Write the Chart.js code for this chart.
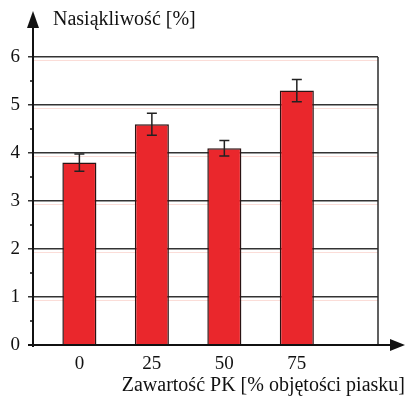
<!DOCTYPE html>
<html lang="pl">
  <head>
    <meta charset="UTF-8" />
    <title>Nasiąkliwość</title>
    <script src="https://cdn.jsdelivr.net/npm/chart.js"></script>
    <style>
      html, body {
        margin: 0;
        padding: 0;
        background: #ffffff;
      }
      .wrap {
        width: 406px;
        height: 402px;
      }
    </style>
  </head>
  <body>
    <div class="wrap">
      <canvas id="chart" width="406" height="402"></canvas>
    </div>
    <script>
      // data
      const pkContent = [0, 25, 50, 75];
      const absorption = [3.8, 4.6, 4.1, 5.3];
      const errors = [0.18, 0.23, 0.16, 0.23];
      const yTicks = [0, 1, 2, 3, 4, 5, 6];

      const yTitle = "Nasiąkliwość [%]";
      const xTitle = "Zawartość PK [% objętości piasku]";
      const serif = "'Liberation Serif', 'DejaVu Serif', serif";

      const decorPlugin = {
        id: "decor",
        beforeDatasetsDraw(chart) {
          const ctx = chart.ctx;
          const area = chart.chartArea;
          const y = chart.scales.y;
          ctx.save();
          // faint red shadow of the grid lines
          ctx.strokeStyle = "rgba(240,120,100,0.25)";
          ctx.lineWidth = 1;
          yTicks.forEach((v) => {
            if (v === 0) return;
            const py = Math.round(y.getPixelForValue(v)) + 3.5;
            ctx.beginPath();
            ctx.moveTo(area.left, py);
            ctx.lineTo(area.right, py);
            ctx.stroke();
          });
          // right frame line
          ctx.strokeStyle = "#2b2b2b";
          ctx.lineWidth = 1.5;
          ctx.beginPath();
          ctx.moveTo(area.right, area.top);
          ctx.lineTo(area.right, area.bottom);
          ctx.stroke();
          ctx.restore();
        },
        afterDatasetsDraw(chart) {
          const ctx = chart.ctx;
          const x = chart.scales.x;
          const y = chart.scales.y;
          ctx.save();
          ctx.strokeStyle = "#222";
          ctx.lineWidth = 1.5;
          pkContent.forEach((v, i) => {
            const px = x.getPixelForValue(v);
            const top = y.getPixelForValue(absorption[i] + errors[i]);
            const bot = y.getPixelForValue(absorption[i] - errors[i]);
            ctx.beginPath();
            ctx.moveTo(px, top);
            ctx.lineTo(px, bot);
            ctx.moveTo(px - 5, top);
            ctx.lineTo(px + 5, top);
            ctx.moveTo(px - 5, bot);
            ctx.lineTo(px + 5, bot);
            ctx.stroke();
          });
          ctx.restore();
        },
        afterDraw(chart) {
          const ctx = chart.ctx;
          const area = chart.chartArea;
          const y = chart.scales.y;
          const w = chart.width;
          ctx.save();
          ctx.strokeStyle = "#111";
          ctx.fillStyle = "#111";
          ctx.lineWidth = 2;
          // y axis up to the arrow
          ctx.beginPath();
          ctx.moveTo(area.left, area.bottom + 2);
          ctx.lineTo(area.left, 24);
          ctx.stroke();
          ctx.beginPath();
          ctx.moveTo(area.left, 11);
          ctx.lineTo(area.left - 6, 28);
          ctx.lineTo(area.left + 6, 28);
          ctx.closePath();
          ctx.fill();
          // x axis to the arrow
          ctx.beginPath();
          ctx.moveTo(area.left - 5, area.bottom);
          ctx.lineTo(w - 10, area.bottom);
          ctx.stroke();
          ctx.beginPath();
          ctx.moveTo(w - 1, area.bottom);
          ctx.lineTo(w - 16, area.bottom - 6);
          ctx.lineTo(w - 16, area.bottom + 6);
          ctx.closePath();
          ctx.fill();
          // minor ticks
          ctx.lineWidth = 1.5;
          for (let i = 0; i < yTicks.length - 1; i++) {
            const py = y.getPixelForValue(yTicks[i] + 0.5);
            ctx.beginPath();
            ctx.moveTo(area.left - 3, py);
            ctx.lineTo(area.left, py);
            ctx.stroke();
          }
          // axis titles
          ctx.font = "20px " + serif;
          ctx.textBaseline = "alphabetic";
          ctx.textAlign = "left";
          ctx.fillText(yTitle, area.left + 20, 25);
          ctx.textAlign = "right";
          ctx.fillText(xTitle, w - 1, 391);
          ctx.restore();
        },
      };

      new Chart(document.getElementById("chart"), {
        type: "bar",
        data: {
          datasets: [
            {
              data: pkContent.map((v, i) => ({ x: v, y: absorption[i] })),
              backgroundColor: "#ea272c",
              borderColor: "#2a1414",
              borderWidth: 1.5,
              barPercentage: 0.47,
              categoryPercentage: 1,
            },
          ],
        },
        options: {
          responsive: false,
          animation: false,
          layout: { padding: { top: 57, right: 28, left: 0, bottom: 0 } },
          plugins: {
            legend: { display: false },
            tooltip: { enabled: false },
          },
          scales: {
            x: {
              type: "linear",
              offset: false,
              min: -16,
              max: 103,
              afterBuildTicks: (scale) => {
                scale.ticks = pkContent.map((v) => ({ value: v }));
              },
              afterFit: (scale) => {
                scale.height = 57;
              },
              grid: { display: false },
              border: { display: false },
              ticks: {
                color: "#111",
                padding: 0,
                font: { family: serif, size: 19 },
              },
            },
            y: {
              min: 0,
              max: 6,
              afterBuildTicks: (scale) => {
                scale.ticks = yTicks.map((v) => ({ value: v }));
              },
              afterFit: (scale) => {
                scale.width = 33;
              },
              grid: {
                color: "#333",
                lineWidth: 1.5,
                tickLength: 5,
              },
              border: { display: false },
              ticks: {
                color: "#111",
                padding: 8,
                font: { family: serif, size: 19 },
              },
            },
          },
        },
        plugins: [decorPlugin],
      });
    </script>
  </body>
</html>
